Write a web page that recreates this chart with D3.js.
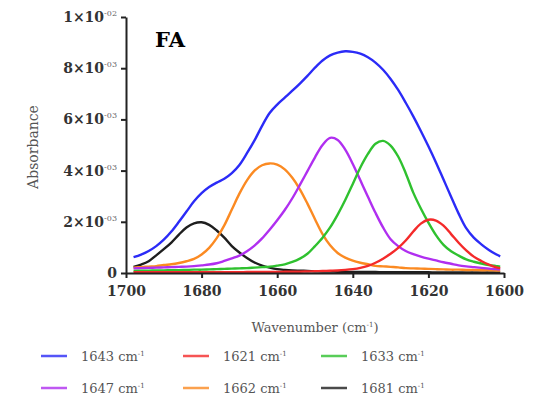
<!DOCTYPE html>
<html>
<head>
<meta charset="utf-8">
<script src="https://cdn.jsdelivr.net/npm/d3@7"></script>
<style>
  body { margin: 0; background: #fff; }
</style>
</head>
<body>
<div id="chart"></div>
<script>
// absorbance values are in units of 1e-3
const WAVENUMBERS = [1698, 1696, 1694, 1692, 1690, 1688, 1686, 1684, 1682, 1680,
  1678, 1676, 1674, 1672, 1670, 1668, 1666, 1664, 1662, 1660,
  1658, 1656, 1654, 1652, 1650, 1648, 1646, 1644, 1642, 1640,
  1638, 1636, 1634, 1632, 1630, 1628, 1626, 1624, 1622, 1620,
  1618, 1616, 1614, 1612, 1610, 1608, 1606, 1604, 1602, 1601];

const A_1643 = [0.62, 0.72, 0.86, 1.05, 1.30, 1.62, 2.00, 2.40, 2.80, 3.12,
  3.36, 3.53, 3.68, 3.90, 4.22, 4.68, 5.18, 5.75, 6.25, 6.58,
  6.85, 7.12, 7.40, 7.70, 8.02, 8.30, 8.50, 8.61, 8.66, 8.64,
  8.57, 8.43, 8.22, 7.94, 7.58, 7.15, 6.65, 6.12, 5.55, 4.95,
  4.32, 3.65, 2.98, 2.32, 1.75, 1.38, 1.12, 0.90, 0.72, 0.65];

const A_1621 = [0.03, 0.03, 0.03, 0.03, 0.03, 0.03, 0.03, 0.03, 0.03, 0.03,
  0.03, 0.03, 0.03, 0.03, 0.03, 0.04, 0.04, 0.04, 0.04, 0.04,
  0.05, 0.05, 0.05, 0.06, 0.07, 0.08, 0.09, 0.10, 0.12, 0.15,
  0.20, 0.28, 0.40, 0.56, 0.75, 0.98, 1.27, 1.62, 1.93, 2.08,
  2.05, 1.85, 1.52, 1.18, 0.88, 0.64, 0.47, 0.33, 0.22, 0.19];

const A_1633 = [0.08, 0.09, 0.09, 0.10, 0.10, 0.11, 0.11, 0.12, 0.13, 0.13,
  0.14, 0.15, 0.16, 0.17, 0.18, 0.19, 0.21, 0.23, 0.25, 0.29,
  0.34, 0.43, 0.56, 0.75, 1.05, 1.38, 1.78, 2.28, 2.85, 3.48,
  4.12, 4.65, 5.05, 5.16, 4.98, 4.55, 3.90, 3.14, 2.52, 1.97,
  1.48, 1.10, 0.85, 0.68, 0.53, 0.44, 0.37, 0.31, 0.27, 0.25];

const A_1647 = [0.18, 0.19, 0.20, 0.21, 0.22, 0.23, 0.24, 0.25, 0.27, 0.30,
  0.33, 0.38, 0.47, 0.57, 0.68, 0.85, 1.07, 1.35, 1.69, 2.06,
  2.46, 2.92, 3.44, 3.98, 4.52, 5.00, 5.28, 5.20, 4.82, 4.26,
  3.62, 2.98, 2.35, 1.78, 1.32, 1.05, 0.86, 0.74, 0.64, 0.56,
  0.49, 0.42, 0.36, 0.30, 0.26, 0.23, 0.20, 0.17, 0.15, 0.14];

const A_1662 = [0.21, 0.23, 0.25, 0.27, 0.31, 0.34, 0.39, 0.46, 0.55, 0.72,
  0.98, 1.36, 1.86, 2.48, 3.10, 3.62, 4.00, 4.21, 4.28, 4.23,
  4.05, 3.72, 3.27, 2.71, 2.10, 1.52, 1.08, 0.78, 0.60, 0.48,
  0.40, 0.34, 0.28, 0.26, 0.24, 0.22, 0.19, 0.18, 0.17, 0.16,
  0.15, 0.14, 0.13, 0.13, 0.12, 0.12, 0.11, 0.11, 0.10, 0.10];

const A_1681 = [0.24, 0.33, 0.46, 0.69, 0.93, 1.19, 1.50, 1.78, 1.94, 1.98,
  1.88, 1.66, 1.38, 1.05, 0.80, 0.59, 0.41, 0.29, 0.21, 0.15,
  0.12, 0.10, 0.09, 0.08, 0.07, 0.06, 0.06, 0.05, 0.05, 0.04,
  0.04, 0.04, 0.04, 0.03, 0.03, 0.03, 0.03, 0.03, 0.03, 0.03,
  0.02, 0.02, 0.02, 0.02, 0.02, 0.02, 0.02, 0.02, 0.02, 0.02];

const SERIES_LABELS = ["1643", "1621", "1633", "1647", "1662", "1681"];
const SERIES_VALUES = [A_1643, A_1621, A_1633, A_1647, A_1662, A_1681];

const X_TICKS = [1700, 1680, 1660, 1640, 1620, 1600];
const Y_TICKS = [0, 2, 4, 6, 8, 10];
const Y_TICK_MANTISSA = ["0", "2", "4", "6", "8", "1"];
const Y_TICK_EXPONENT = ["", "-03", "-03", "-03", "-03", "-02"];

const COLORS = ["#2b2bf7", "#f42a2a", "#2fc12f", "#b02ff0", "#fb8a22", "#1e1e1e"];
const FONT = "DejaVu Serif";

const W = 538, H = 402;
const PLOT = { LEFT: 126, RIGHT: 504, TOP: 17, BOTTOM: 273 };

const svg = d3.select("#chart")
  .append("svg")
  .attr("width", W)
  .attr("height", H)
  .style("font-family", FONT);

const x = d3.scaleLinear().domain([1700, 1600]).range([PLOT.LEFT, PLOT.RIGHT]);
const y = d3.scaleLinear().domain([0, 10]).range([PLOT.BOTTOM, PLOT.TOP]);

const line = d3.line()
  .x((d, i) => x(WAVENUMBERS[i]))
  .y(d => y(d))
  .curve(d3.curveCatmullRom.alpha(0.5));

// draw order: black at the back, blue on top
const drawOrder = [5, 4, 3, 2, 1, 0];
svg.append("g")
  .selectAll("path")
  .data(drawOrder)
  .enter().append("path")
  .attr("d", k => line(SERIES_VALUES[k]))
  .attr("fill", "none")
  .attr("stroke", k => COLORS[k])
  .attr("stroke-width", 2.4);

// x axis
const xAxis = svg.append("g")
  .attr("transform", `translate(0, ${PLOT.BOTTOM})`)
  .call(d3.axisBottom(x).tickValues(X_TICKS).tickSize(5).tickSizeOuter(0)
    .tickPadding(8).tickFormat(d3.format("d")));
xAxis.select(".domain").attr("stroke", "#222").attr("stroke-width", 2);
xAxis.selectAll(".tick line").attr("stroke", "#222").attr("stroke-width", 2);
xAxis.selectAll("text")
  .attr("font-family", FONT)
  .attr("font-size", "14px")
  .attr("font-weight", "bold")
  .attr("fill", "#333");

// y axis, labels drawn separately for the exponent
const yAxis = svg.append("g")
  .attr("transform", `translate(${PLOT.LEFT}, 0)`)
  .call(d3.axisLeft(y).tickValues(Y_TICKS).tickSize(5).tickSizeOuter(0).tickFormat(""));
yAxis.select(".domain").attr("stroke", "#222").attr("stroke-width", 2);
yAxis.selectAll(".tick line").attr("stroke", "#222").attr("stroke-width", 2);

const yLabels = svg.append("g")
  .selectAll("text")
  .data(Y_TICKS)
  .enter().append("text")
  .attr("x", PLOT.LEFT - 9)
  .attr("y", d => y(d) + 5)
  .attr("text-anchor", "end")
  .attr("font-size", "14px")
  .attr("font-weight", "bold")
  .attr("fill", "#333");
yLabels.append("tspan")
  .text((d, i) => Y_TICK_EXPONENT[i] ? Y_TICK_MANTISSA[i] + "\u00d710" : Y_TICK_MANTISSA[i]);
yLabels.append("tspan")
  .attr("dy", -6)
  .attr("font-size", "8px")
  .attr("font-weight", "normal")
  .attr("fill", "#666")
  .text((d, i) => Y_TICK_EXPONENT[i]);

// axis titles
const xTitle = svg.append("text")
  .attr("x", 315)
  .attr("y", 332)
  .attr("text-anchor", "middle")
  .attr("font-size", "13px")
  .attr("fill", "#555");
xTitle.append("tspan").text("Wavenumber (cm");
xTitle.append("tspan").attr("dy", -5).attr("font-size", "7px").text("-1");
xTitle.append("tspan").attr("dy", 5).text(")");

svg.append("text")
  .attr("transform", "translate(38, 147) rotate(-90)")
  .attr("text-anchor", "middle")
  .attr("font-size", "14px")
  .attr("fill", "#555")
  .text("Absorbance");

svg.append("text")
  .attr("x", 155)
  .attr("y", 47)
  .attr("font-size", "21px")
  .attr("font-weight", "bold")
  .attr("fill", "#000")
  .text("FA");

// legend: 3 columns, 2 rows
const LEGEND_COLS = [41, 183, 321];
const LEGEND_ROWS = [356, 388];
const legend = svg.append("g")
  .selectAll("g")
  .data(SERIES_LABELS)
  .enter().append("g")
  .attr("transform", (d, i) => `translate(${LEGEND_COLS[i % 3]}, ${LEGEND_ROWS[Math.floor(i / 3)]})`);
legend.append("line")
  .attr("x1", 0).attr("x2", 26)
  .attr("y1", 0).attr("y2", 0)
  .attr("stroke", (d, i) => COLORS[i])
  .attr("stroke-width", 2.5)
  .attr("opacity", 0.8);
const legendText = legend.append("text")
  .attr("x", 40)
  .attr("y", 4.5)
  .attr("font-size", "13px")
  .attr("fill", "#555");
legendText.append("tspan").text(d => d + " cm");
legendText.append("tspan").attr("dy", -5).attr("font-size", "7px").text("-1");
</script>
</body>
</html>
